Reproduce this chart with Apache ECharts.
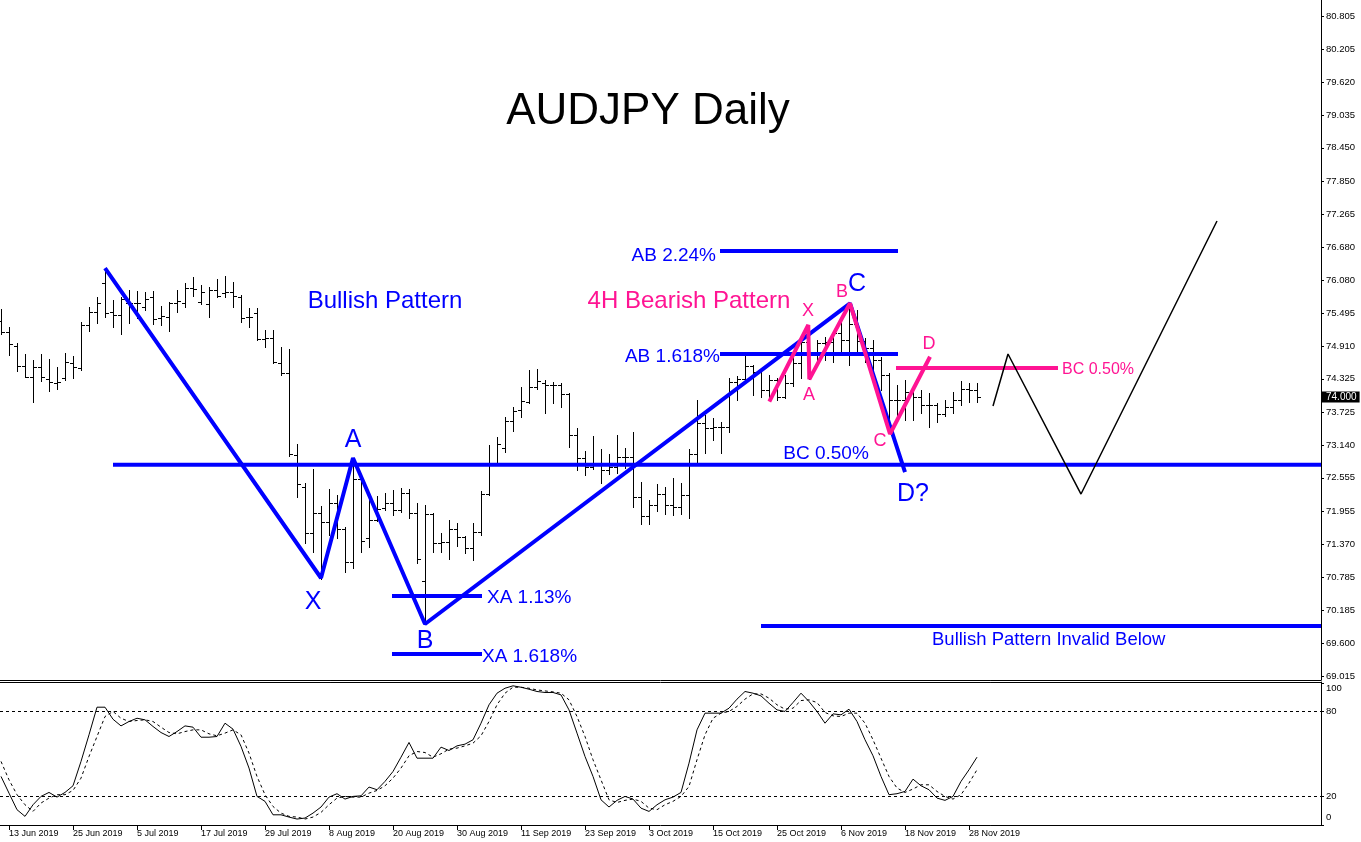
<!DOCTYPE html>
<html><head><meta charset="utf-8">
<script src="https://cdn.jsdelivr.net/npm/echarts@6/dist/echarts.min.js"></script>
<style>html,body{margin:0;padding:0;background:#fff}#c{width:1361px;height:842px}</style>
</head><body><div id="c"></div>
<script>
// Daily bars from 12 Jun 2019 to 29 Nov 2019: [open, high, low, close]
const ohlc = [
[75.35,75.565,75.124,75.166],[75.166,75.255,74.749,74.945],[74.910,74.957,74.469,74.552],[74.552,74.761,74.350,74.362],[74.362,74.660,73.915,74.540],
[74.540,74.761,74.290,74.362],[74.314,74.671,74.112,74.272],[74.243,74.529,74.135,74.272],[74.332,74.779,74.300,74.630],[74.600,74.731,74.332,74.529],
[74.511,75.344,74.490,75.285],[75.285,75.600,75.178,75.523],[75.523,75.779,75.315,75.672],[76.029,76.297,75.422,75.505],[75.523,75.731,75.255,75.463],
[75.463,75.791,75.124,75.743],[75.684,75.910,75.315,75.672],[75.672,75.898,75.404,75.672],[75.612,75.868,75.553,75.743],[75.791,75.898,75.303,75.386],
[75.404,75.624,75.285,75.446],[75.434,75.690,75.178,75.672],[75.672,75.910,75.523,75.720],[75.672,76.029,75.612,75.940],[75.940,76.148,75.803,75.922],
[75.702,75.999,75.660,75.880],[75.660,75.970,75.422,75.910],[75.910,76.107,75.779,75.803],[75.851,76.160,75.791,75.868],[75.868,76.059,75.612,75.803],
[75.791,75.821,75.344,75.404],[75.434,75.583,75.255,75.434],[75.493,75.583,75.017,75.029],[75.041,75.196,74.886,75.047],[75.047,75.196,74.600,74.630],
[74.600,74.886,74.400,74.421],[74.420,74.850,72.950,72.990],[72.963,73.159,72.206,72.444],[72.397,72.468,71.384,71.575],[71.575,72.707,71.224,71.932],
[71.932,72.051,70.741,71.772],[71.772,72.349,71.533,72.111],[72.111,72.248,71.474,71.650],[71.650,71.682,70.878,71.057],[71.057,72.909,70.938,72.528],
[72.528,72.576,71.236,71.432],[71.474,72.248,71.325,71.801],[71.801,72.230,71.789,71.992],[72.010,72.290,71.980,72.099],[72.099,72.337,71.891,71.980],
[71.980,72.379,71.950,72.290],[72.290,72.349,71.831,71.920],[71.920,72.099,71.039,71.099],[70.718,72.069,69.944,71.908],[71.908,71.920,71.236,71.396],
[71.396,71.575,71.236,71.414],[71.414,71.801,71.099,71.635],[71.635,71.742,71.337,71.504],[71.504,71.515,71.206,71.295],[71.295,71.742,71.087,71.593],
[71.593,72.325,71.533,72.266],[72.266,73.141,72.250,72.826],[72.826,73.278,72.800,73.159],[73.082,73.647,73.022,73.570],[73.570,73.814,73.397,73.755],
[73.767,74.172,73.648,73.933],[73.916,74.481,73.900,74.172],[74.172,74.493,74.150,74.291],[74.250,74.300,73.719,74.220],[74.220,74.273,73.886,74.210],
[74.210,74.243,73.826,74.053],[74.053,74.065,73.112,73.320],[73.320,73.439,72.695,72.903],[72.903,73.040,72.606,72.742],[72.742,73.302,72.707,72.802],
[72.802,73.064,72.469,72.695],[72.695,72.981,72.623,72.742],[72.742,73.320,72.635,72.933],[72.933,73.082,72.725,72.921],[72.921,73.380,72.028,72.218],
[72.218,72.487,71.730,71.873],[71.873,72.159,71.730,72.070],[72.070,72.445,71.968,72.266],[72.266,72.397,71.909,72.070],[72.070,72.546,71.891,72.040],
[72.040,72.469,71.909,72.248],[72.248,73.064,71.831,72.981],[72.981,73.945,72.844,73.529],[73.529,73.677,72.993,73.439],[73.439,73.618,73.231,73.469],
[73.469,73.558,72.992,73.468],[73.468,74.332,73.379,74.272],[74.272,74.374,73.945,74.314],[74.314,74.749,74.250,74.560],[74.560,74.570,74.034,74.451],
[74.451,74.481,74.005,74.124],[74.124,74.391,73.945,74.302],[74.302,74.332,73.945,74.004],[74.004,74.391,73.990,74.243],[74.243,74.749,74.200,74.600],
[74.600,75.017,74.332,74.987],[74.987,75.285,74.320,74.750],[74.750,75.017,74.600,74.957],[74.957,75.076,74.660,74.987],[74.987,75.166,74.630,75.136],
[75.136,75.434,74.808,75.017],[75.017,75.673,74.570,75.300],[75.300,75.553,74.779,75.000],[75.000,75.050,74.630,74.868],[74.868,75.017,74.332,74.660],
[74.660,74.719,74.124,74.400],[74.400,74.420,73.360,73.950],[73.950,74.213,73.588,73.945],[73.945,74.302,73.588,74.094],[74.094,74.153,73.588,74.004],
[74.004,74.124,73.707,73.856],[73.856,74.064,73.468,73.856],[73.856,73.885,73.558,73.695],[73.695,73.945,73.659,73.814],[73.814,74.094,73.707,73.945],
[73.945,74.290,73.856,74.136],[74.136,74.243,73.915,74.124],[74.124,74.243,73.915,74.000]
];
const stochMain = [34.3,22.5,10.8,6.1,14.3,20.2,23.0,19.7,23.0,27.7,44.9,63.7,83.2,83.2,74.7,70.0,73.1,75.4,74.3,69.6,
65.3,62.5,66.0,70.0,69.1,62.0,62.0,62.5,71.9,67.7,55.5,40.2,20.2,16.7,7.2,7.2,5.6,4.2,4.9,8.4,
12.7,19.7,22.1,18.3,20.2,20.6,26.8,24.9,30.8,37.8,47.9,58.3,47.2,47.2,47.2,55.0,52.6,55.9,57.1,60.2,
71.9,84.9,93.1,96.6,98.3,97.3,95.9,94.3,93.6,93.6,91.9,81.3,64.9,48.4,34.3,17.8,12.7,17.4,20.2,18.3,
11.9,9.6,14.3,17.8,19.7,23.0,43.7,67.2,79.0,79.0,79.0,82.5,88.9,94.3,93.1,91.2,86.0,81.3,80.2,86.5,
93.1,87.2,80.2,71.9,78.5,77.8,81.8,73.1,60.2,48.9,34.3,21.4,22.1,23.7,32.4,27.7,24.9,19.0,17.4,20.2,
30.8,39.0,47.9];
const stochSignal = [44.9,31.9,21.4,14.3,9.6,15.5,19.0,21.4,21.4,24.4,33.1,48.4,62.5,76.6,80.2,75.4,73.1,73.8,74.3,73.1,
69.1,65.3,64.4,66.0,67.2,67.2,64.4,63.0,64.9,67.2,63.7,50.8,34.3,21.4,13.1,8.4,6.1,5.6,4.2,5.6,
8.9,14.3,19.0,20.2,19.7,19.7,22.5,24.4,27.7,33.1,40.2,48.9,51.9,51.2,47.9,50.3,53.6,54.3,55.9,57.8,
63.0,73.1,84.9,93.1,97.3,97.3,96.6,95.4,94.7,94.0,93.1,88.4,76.6,62.5,46.1,31.9,17.8,15.9,17.4,18.3,
16.7,11.9,10.8,14.3,16.7,20.2,27.2,46.1,63.7,75.4,79.0,80.2,83.7,88.9,92.6,92.6,89.6,84.9,81.8,82.5,
87.9,88.4,86.5,79.5,77.1,76.6,79.0,79.0,71.9,60.2,47.2,34.3,26.1,23.0,25.4,28.4,28.4,23.7,20.2,18.3,
21.4,29.6,39.0];
const stochLevels = [80, 20];
const priceTicks = [69.015,69.600,70.185,70.785,71.370,71.955,72.555,73.140,73.725,74.325,74.910,75.495,76.080,76.680,77.265,77.850,78.450,79.035,79.620,80.205,80.805];
const oscTicks = [0, 20, 80, 100];
const dateTickIndex = [1,9,17,25,33,41,49,57,65,73,81,89,97,105,113,121];
const dateTickLabels = ['13 Jun 2019','25 Jun 2019','5 Jul 2019','17 Jul 2019','29 Jul 2019','8 Aug 2019','20 Aug 2019','30 Aug 2019','11 Sep 2019','23 Sep 2019','3 Oct 2019','15 Oct 2019','25 Oct 2019','6 Nov 2019','18 Nov 2019','28 Nov 2019'];
const lastPrice = 74.000;
// drawn pattern points: [bar index, price]
const blueZigzag = [[13,76.303],[40,70.766],[44,72.909],[53,69.944],[106.125,75.673],[113,72.659]];
const pinkZigzag = [[96.04,73.915],[100.91,75.285],[101.04,74.315],[106.125,75.673],[111.125,73.338],[116.125,74.719]];
const projection = [[124,73.838],[125.875,74.767],[135,72.266],[152,77.143]];
// horizontal levels: [from index, to index, price]
const blueLevels = [[14,165,72.79],[89.875,112.125,76.607],[89.875,112.125,74.767],[48.875,60.125,70.444],[48.875,60.125,69.408],[95,165,69.908]];
const pinkLevels = [[111.875,132.125,74.517]];
// text annotations: [text, bar index, price, style]
const annotations = [
['AUDJPY Daily',80.875,79.144,'title'],
['Bullish Pattern',48,75.732,'blueBig'],
['4H Bearish Pattern',86,75.732,'pinkBig'],
['AB 2.24%',89.375,76.553,'blueRight'],
['AB 1.618%',89.875,74.749,'blueRight'],
['BC 0.50%',103.125,73.017,'blueMid'],
['D?',114,72.302,'blueLetter'],
['XA 1.13%',60.75,70.444,'blueLeft'],
['XA 1.618%',60.125,69.390,'blueLeft'],
['X',39,70.373,'blueLetter'],
['A',44,73.267,'blueLetter'],
['B',53,69.676,'blueLetter'],
['C',107,76.053,'blueLetter'],
['Bullish Pattern Invalid Below',116.375,69.694,'blueNote'],
['X',100.875,75.553,'pinkLetter'],
['A',101,74.052,'pinkLetter'],
['B',105.125,75.893,'pinkLetter'],
['C',109.875,73.231,'pinkLetter'],
['D',116,74.964,'pinkLetter'],
['BC 0.50%',132.625,74.499,'pinkNote']
];

const BLUE = '#0000ff', PINK = '#ff1493';
const FONT = '"Liberation Sans", Arial, sans-serif';
const textStyles = {
  title:{color:'#000',fontSize:44,align:'center',dy:3},
  blueBig:{color:BLUE,fontSize:24,align:'center',dy:1},
  pinkBig:{color:PINK,fontSize:24,align:'center',dy:1},
  blueRight:{color:BLUE,fontSize:19,align:'right',dy:2},
  blueLeft:{color:BLUE,fontSize:19,align:'left',dy:2},
  blueMid:{color:BLUE,fontSize:19,align:'center',dy:2},
  blueLetter:{color:BLUE,fontSize:25,align:'center',dy:2},
  blueNote:{color:BLUE,fontSize:18.5,align:'left',dy:2},
  pinkLetter:{color:PINK,fontSize:18,align:'center',dy:1},
  pinkNote:{color:PINK,fontSize:16,align:'left',dy:1}
};

const chart = echarts.init(document.getElementById('c'), null, {renderer:'canvas'});
const X_MIN = -0.125, X_MAX = 165;

function renderBar(params, api) {
  const i = api.value(0);
  const o = api.coord([i, api.value(1)]);
  const h = api.coord([i, api.value(2)]);
  const l = api.coord([i, api.value(3)]);
  const c = api.coord([i, api.value(4)]);
  const x = Math.round(o[0]) + 0.5;
  const r = v => Math.round(v) + 0.5;
  const st = {stroke:'#000', lineWidth:1};
  return {type:'group', children:[
    {type:'line', shape:{x1:x, y1:Math.round(h[1]), x2:x, y2:Math.round(l[1]) + 1}, style:st},
    {type:'line', shape:{x1:x - 3.5, y1:r(o[1]), x2:x, y2:r(o[1])}, style:st},
    {type:'line', shape:{x1:x, y1:r(c[1]), x2:x + 3.5, y2:r(c[1])}, style:st}
  ]};
}

function seg(data, color, width, z) {
  return {type:'line', xAxisIndex:0, yAxisIndex:0, data:data, symbol:'none', silent:true, z:z,
    lineStyle:{color:color, width:width}, animation:false};
}

const series = [
  {type:'custom', xAxisIndex:0, yAxisIndex:0, renderItem:renderBar, encode:{x:0, y:[1,2,3,4]},
   data: ohlc.map((d, i) => [i, d[0], d[1], d[2], d[3]]), silent:true, z:2},
  {type:'line', xAxisIndex:0, yAxisIndex:0, data:[], symbol:'none', silent:true, z:20,
   markLine:{silent:true, symbol:'none', data:[{yAxis:lastPrice}], lineStyle:{color:'rgba(0,0,0,0)', width:0},
     label:{show:true, position:'end', distance:1, formatter:lastPrice.toFixed(3), color:'#fff', backgroundColor:'#000',
       fontSize:10, fontFamily:FONT, padding:[1,3,0,4], opacity:1}}},
  {type:'line', xAxisIndex:1, yAxisIndex:1, data: stochMain.map((v, i) => [i, v]), symbol:'none', silent:true,
   lineStyle:{color:'#000', width:1},
   markLine:{silent:true, symbol:'none', data: stochLevels.map(v => ({yAxis:v})), label:{show:false},
     lineStyle:{color:'#000', width:1, type:[3,3]}}},
  {type:'line', xAxisIndex:1, yAxisIndex:1, data: stochSignal.map((v, i) => [i, v]), symbol:'none', silent:true,
   lineStyle:{color:'#000', width:1, type:[3,3]}},
  seg(blueZigzag, BLUE, 4, 5),
  ...blueLevels.map(L => seg([[L[0], L[2]], [L[1], L[2]]], BLUE, 4, 5)),
  seg(pinkZigzag, PINK, 4, 6),
  ...pinkLevels.map(L => seg([[L[0], L[2]], [L[1], L[2]]], PINK, 4, 6)),
  seg(projection, '#000', 1.5, 6),
  {type:'scatter', xAxisIndex:0, yAxisIndex:0, symbolSize:0, silent:true, z:10,
   itemStyle:{opacity:1},
   data: annotations.map(a => {
     const s = textStyles[a[3]];
     return {value:[a[1], a[2]], itemStyle:{opacity:1},
       label:{show:true, position:[0,0], offset:[0, s.dy], formatter:a[0], color:s.color,
       fontSize:s.fontSize, align:s.align, verticalAlign:'middle', fontFamily:FONT, opacity:1}};
   })}
];

const axisLineBlack = {show:true, onZero:false, lineStyle:{color:'#000', width:1}};
const option = {
  animation:false,
  backgroundColor:'#fff',
  grid:[
    {left:0, right:40, top:0, height:680},
    {left:0, right:40, top:682, height:143}
  ],
  xAxis:[
    {gridIndex:0, type:'value', min:X_MIN, max:X_MAX, position:'bottom', axisLine:axisLineBlack,
     axisTick:{show:false}, axisLabel:{show:false}, splitLine:{show:false}},
    {gridIndex:1, type:'value', min:X_MIN, max:X_MAX, position:'bottom', axisLine:axisLineBlack,
     axisTick:{show:true, customValues:dateTickIndex, length:5, lineStyle:{color:'#000'}},
     axisLabel:{show:true, customValues:dateTickIndex, align:'left', margin:4, fontSize:9, fontFamily:FONT, color:'#000',
       formatter: v => dateTickLabels[dateTickIndex.indexOf(Math.round(v))] || ''},
     splitLine:{show:false}},
    {gridIndex:1, type:'value', min:X_MIN, max:X_MAX, position:'top', axisLine:axisLineBlack,
     axisTick:{show:false}, axisLabel:{show:false}, splitLine:{show:false}}
  ],
  yAxis:[
    {gridIndex:0, type:'value', position:'right', min:68.944, max:81.091, axisLine:axisLineBlack,
     axisTick:{show:true, customValues:priceTicks, length:3, lineStyle:{color:'#000'}},
     axisLabel:{show:true, customValues:priceTicks, margin:5, fontSize:9.5, fontFamily:FONT, color:'#000',
       formatter: v => v.toFixed(3)},
     splitLine:{show:false}},
    {gridIndex:1, type:'value', position:'right', min:0, max:101, axisLine:axisLineBlack,
     axisTick:{show:true, customValues:oscTicks, length:3, lineStyle:{color:'#000'}},
     axisLabel:{show:true, customValues:oscTicks, margin:5, fontSize:9.5, fontFamily:FONT, color:'#000',
       formatter: v => v === 100 ? '{t|100}' : (v === 0 ? '{b|0}' : String(v)),
       rich:{t:{padding:[10,0,0,0], fontSize:9.5, fontFamily:FONT, color:'#000'}, b:{padding:[0,0,16,0], fontSize:9.5, fontFamily:FONT, color:'#000'}}},
     splitLine:{show:false}}
  ],
  series: series
};
chart.setOption(option);
</script>
</body></html>
